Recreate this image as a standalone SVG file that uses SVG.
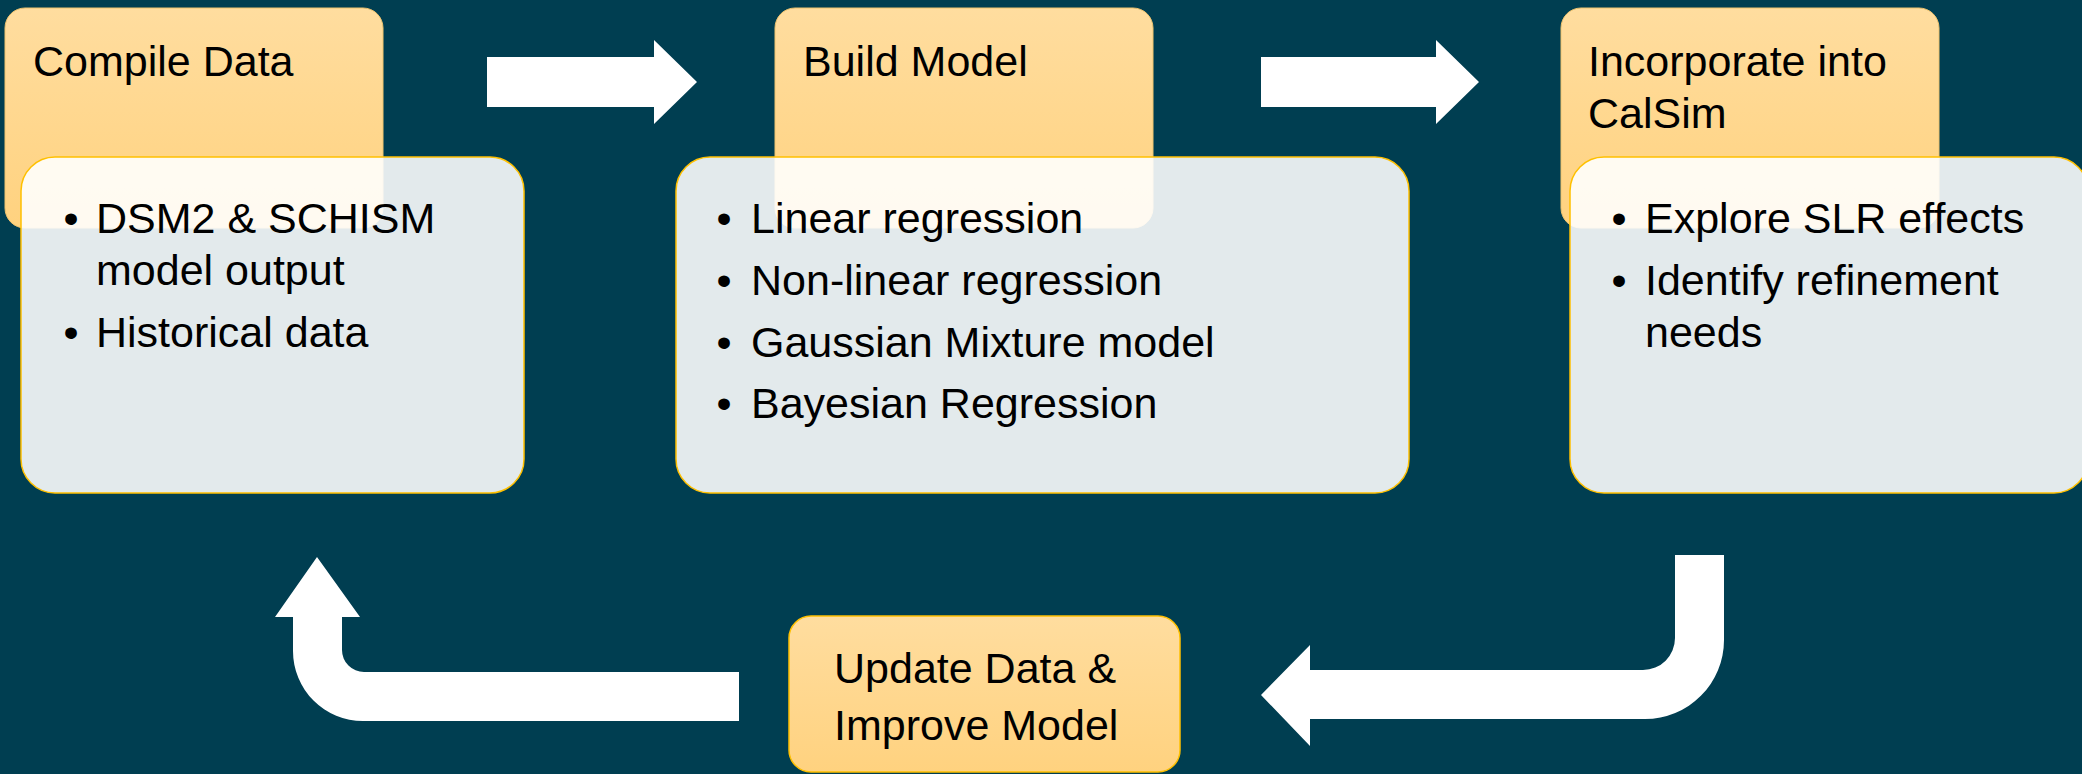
<svg xmlns="http://www.w3.org/2000/svg" width="2082" height="774" viewBox="0 0 2082 774">
  <defs>
    <linearGradient id="og" x1="0" y1="0" x2="0" y2="1">
      <stop offset="0" stop-color="#FFDD9F"/>
      <stop offset="1" stop-color="#FFD27F"/>
    </linearGradient>
    <style>
      .t{font-family:"Liberation Sans",Arial,sans-serif;font-size:43px;fill:#000}
      .b{font-family:"Liberation Sans",Arial,sans-serif;font-size:43px;fill:#000;text-anchor:middle}
      .hdr{fill:url(#og);stroke:#EFC36E;stroke-width:1}
      .box4{fill:url(#og);stroke:#FFC000;stroke-width:1.5}
      .body{fill:#FFFFFF;fill-opacity:0.89;stroke:#FFC000;stroke-width:1.5}
      .arr{fill:#FFFFFF}
    </style>
  </defs>
  <rect x="0" y="0" width="2082" height="774" fill="#003E51"/>

  <g id="connectors">
    <path class="arr" d="M487,57 H654 V40 L697,82 L654,124 V107 H487 Z"/>
    <path class="arr" d="M1261,57 H1436 V40 L1479,82 L1436,124 V107 H1261 Z"/>
    <path class="arr" d="M1675,555 H1724 V640 A79,79 0 0 1 1645,719 H1310 V746 L1261,695 L1310,645 V670 H1643 A32,32 0 0 0 1675,638 Z"/>
    <path class="arr" d="M739,672 H364 A22,22 0 0 1 342,650 V617 H360 L317,557 L275,617 H293 V651 A70,70 0 0 0 363,721 H739 Z"/>
  </g>

  <g id="compile-data">
    <rect class="hdr" x="5" y="8" width="378" height="220" rx="20"/>
    <text class="t" x="33" y="76">Compile Data</text>
    <rect class="body" x="21" y="157" width="503" height="336" rx="34"/>
    <text class="b" x="71" y="233">•</text>
    <text class="t" x="96" y="233">DSM2 &amp; SCHISM</text>
    <text class="t" x="96" y="285">model output</text>
    <text class="b" x="71" y="347">•</text>
    <text class="t" x="96" y="347">Historical data</text>
  </g>

  <g id="build-model">
    <rect class="hdr" x="775" y="8" width="378" height="220" rx="20"/>
    <text class="t" x="803" y="76">Build Model</text>
    <rect class="body" x="676" y="157" width="733" height="336" rx="34"/>
    <text class="b" x="724" y="233">•</text>
    <text class="t" x="751" y="233">Linear regression</text>
    <text class="b" x="724" y="295">•</text>
    <text class="t" x="751" y="295">Non-linear regression</text>
    <text class="b" x="724" y="357">•</text>
    <text class="t" x="751" y="357">Gaussian Mixture model</text>
    <text class="b" x="724" y="418">•</text>
    <text class="t" x="751" y="418">Bayesian Regression</text>
  </g>

  <g id="incorporate-calsim">
    <rect class="hdr" x="1561" y="8" width="378" height="220" rx="20"/>
    <text class="t" x="1588" y="76">Incorporate into</text>
    <text class="t" x="1588" y="128">CalSim</text>
    <rect class="body" x="1570" y="157" width="518" height="336" rx="34"/>
    <text class="b" x="1619" y="233">•</text>
    <text class="t" x="1645" y="233">Explore SLR effects</text>
    <text class="b" x="1619" y="295">•</text>
    <text class="t" x="1645" y="295">Identify refinement</text>
    <text class="t" x="1645" y="347">needs</text>
  </g>

  <g id="update-data">
    <rect class="box4" x="789" y="616" width="391" height="156" rx="22"/>
    <text class="t" x="834" y="683">Update Data &amp;</text>
    <text class="t" x="834" y="740">Improve Model</text>
  </g>
</svg>
